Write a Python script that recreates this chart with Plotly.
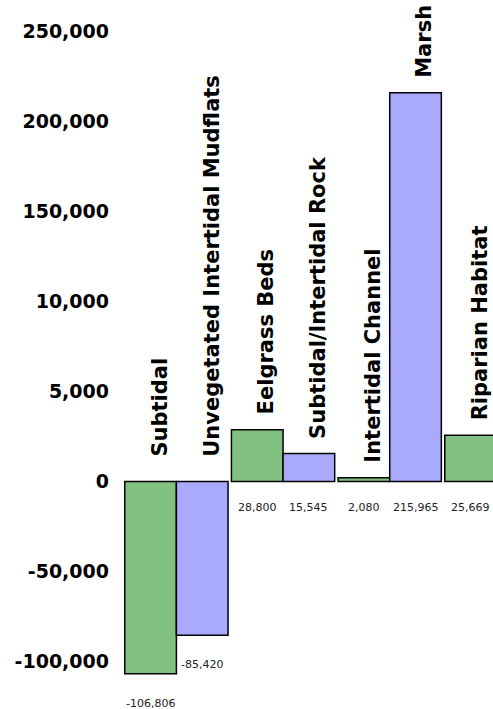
import plotly.graph_objects as go

categories = ["Subtidal", "Unvegetated Intertidal Mudflats", "Eelgrass Beds",
              "Subtidal/Intertidal Rock", "Intertidal Channel", "Marsh", "Riparian Habitat"]
values = [-106806, -85420, 28800, 15545, 2080, 215965, 25669]
value_labels = ["-106,806", "-85,420", "28,800", "15,545", "2,080", "215,965", "25,669"]
tick_values = [250000, 200000, 150000, 100000, 50000, 0, -50000, -100000]
tick_labels = ["250,000", "200,000", "150,000", "10,000", "5,000", "0", "-50,000", "-100,000"]

GREEN = "#80C080"
PURPLE = "#AAAAFC"
W = 0.484  # bar width in group units

groups = [k // 2 for k in range(len(values))]
sides = [k % 2 for k in range(len(values))]
offsets = [-W if s == 0 else 0 for s in sides]
colors = [GREEN if s == 0 else PURPLE for s in sides]
centers = [g + (s - 0.5) * W for g, s in zip(groups, sides)]

fig = go.Figure()
fig.add_trace(go.Bar(
    x=groups, y=values, width=W, offset=offsets,
    marker=dict(color=colors, line=dict(color="black", width=1.5)),
    hoverinfo="skip", showlegend=False,
))

anns = []
for c, v, name, lab in zip(centers, values, categories, value_labels):
    # category name (rotated) above bar top or above zero
    anns.append(dict(
        x=c, y=max(v, 0), xref="x", yref="y", text=name, showarrow=False,
        textangle=-90, xanchor="center", yanchor="bottom",
        xshift=9, yshift=(13 if v >= 0 else 23),
        font=dict(family="DejaVu Sans", size=21, color="black", weight="bold"),
    ))
    # value label below zero or below bar bottom
    anns.append(dict(
        x=c, y=min(v, 0), xref="x", yref="y", text=lab, showarrow=False,
        xanchor="center", yanchor="top", yshift=(-17 if v >= 0 else -21),
        font=dict(family="DejaVu Sans", size=11, color="#222222"),
    ))

fig.update_layout(
    width=493, height=709,
    margin=dict(l=118, r=0, t=0, b=0),
    paper_bgcolor="white", plot_bgcolor="white",
    annotations=anns,
    xaxis=dict(range=[-0.5475, 2.9683], showgrid=False, zeroline=False,
               showticklabels=False, showline=False, fixedrange=True),
    yaxis=dict(range=[-126390, 267500], showgrid=False, zeroline=False,
               showline=False, tickvals=tick_values, ticktext=tick_labels,
               ticks="", ticklabelstandoff=8,
               tickfont=dict(family="DejaVu Sans", size=19, color="black", weight="bold"),
               fixedrange=True),
)

fig.write_html("out.html")
